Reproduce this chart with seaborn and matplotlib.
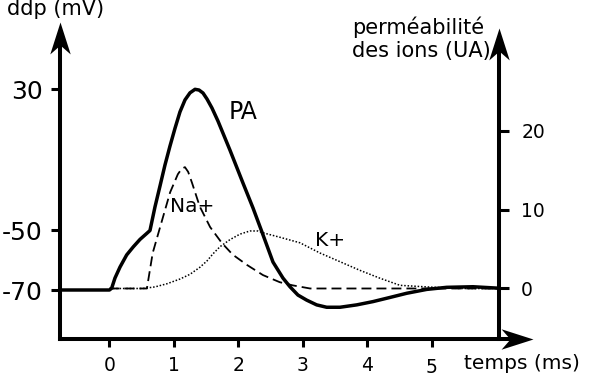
import numpy as np
import seaborn as sns
import matplotlib.pyplot as plt
from matplotlib.path import Path
from matplotlib.transforms import ScaledTranslation

sns.set_style("ticks")
plt.rcParams['font.family'] = ['DejaVu Sans']
plt.rcParams['axes.unicode_minus'] = False
plt.rcParams['axes.edgecolor'] = 'black'
plt.rcParams['xtick.color'] = 'black'
plt.rcParams['ytick.color'] = 'black'
plt.rcParams['text.color'] = 'black'

# ---- data (read off the schematic) ----
# potentiel d'action, ddp in mV
t_pa = [-0.77, 0.0, 0.034, 0.085, 0.163, 0.267, 0.369, 0.473, 0.577, 0.628,
        0.705, 0.783, 0.860, 0.938, 1.016, 1.093, 1.171, 1.248, 1.326, 1.388,
        1.450, 1.512, 1.589, 1.682, 1.868, 2.070, 2.225, 2.364, 2.535, 2.690,
        2.798, 2.922, 3.057, 3.212, 3.367, 3.574, 3.833, 4.085, 4.349, 4.608,
        4.918, 5.228, 5.636, 6.039]
v_pa = [-70, -70, -69.4, -66.0, -62.3, -58.2, -55.5, -53.0, -51.0, -50,
        -36.7, -24.8, -12.9, -2.1, 8.0, 17.3, 24.1, 28.1, 30.1, 29.7,
        28.0, 24.6, 19.5, 12.1, -4.4, -23.1, -37.2, -50.5, -60.6, -66.0,
        -68.9, -71.7, -73.4, -75.0, -75.8, -75.8, -75.0, -73.9, -72.5, -71.1,
        -69.8, -69.1, -68.9, -69.4]

# permeabilite Na+ (UA)
t_na = [0.0, 0.58, 0.67, 0.81, 0.94, 1.06, 1.12, 1.17, 1.22, 1.28, 1.40, 1.56,
        1.74, 1.91, 2.13, 2.38, 2.64, 2.84, 3.11, 6.04]
p_na = [0, 0, 4.5, 8.5, 12.2, 14.5, 15.2, 15.4, 14.8, 13.4, 10.4, 7.8,
        5.8, 4.3, 3.0, 1.7, 0.8, 0.4, 0, 0]

# permeabilite K+ (UA)
t_k = [0.0, 0.52, 0.705, 0.891, 1.093, 1.248, 1.403, 1.512, 1.605, 1.713,
       1.868, 2.023, 2.178, 2.302, 2.411, 2.643, 2.953, 3.264, 3.574, 3.884,
       4.194, 4.504, 4.92, 5.43, 6.04]
p_k = [0, 0, 0.2, 0.6, 1.2, 1.8, 2.7, 3.5, 4.4, 5.3,
       6.2, 6.9, 7.3, 7.3, 7.0, 6.5, 5.8, 4.5, 3.4, 2.3,
       1.3, 0.4, 0.2, 0, 0]

mv_ticks = [-70, -50, 30]
perm_ticks = [0, 10, 20]
time_ticks = [0, 1, 2, 3, 4, 5]

# the mV axis of the drawing is not linear (-70..-50 is stretched)
mv_pts = [-100, -70, -50, 30, 120]
pos_pts = [-89.25, 0, 59.5, 200.5, 359.1]


def fwd(v):
    return np.interp(v, mv_pts, pos_pts)


def inv(p):
    return np.interp(p, pos_pts, mv_pts)


W, H = 589, 376


def px(x, y):
    return x / W, 1 - y / H


fig = plt.figure(figsize=(W / 100, H / 100), dpi=100)
ax = fig.add_axes([60 / W, 37 / H, 439 / W, 317 / H])
ax2 = ax.twinx()

ax.set_yscale('function', functions=(fwd, inv))
ax.set_xlim(-0.767, 6.039)
ax.set_ylim(-86.47, 68.3)
ax2.set_ylim(-6.41, 33.82)

sns.lineplot(x=t_pa, y=v_pa, ax=ax, color='black', lw=2.5,
             estimator=None, sort=False)
sns.lineplot(x=t_na, y=p_na, ax=ax2, color='black', lw=1.3,
             linestyle=(0, (5.5, 2.8)), estimator=None, sort=False)
sns.lineplot(x=t_k, y=p_k, ax=ax2, color='black', lw=1.1,
             linestyle=(0, (1, 1.2)), estimator=None, sort=False)

# ---- axes styling ----
lw_ax = 2.9
for a in (ax, ax2):
    for s in a.spines.values():
        s.set_visible(False)
ax.spines['left'].set_visible(True)
ax.spines['left'].set_linewidth(lw_ax)
ax.spines['left'].set_bounds(-86.47, 58.1)
ax2.spines['right'].set_visible(True)
ax2.spines['right'].set_linewidth(lw_ax)
ax2.spines['right'].set_bounds(-6.41, 30.8)

ax.set_yticks(mv_ticks)
ax.set_yticklabels([str(v) for v in mv_ticks])
ax.yaxis.set_minor_locator(plt.NullLocator())
ax2.set_yticks(perm_ticks)
ax2.set_yticklabels([str(v) for v in perm_ticks])
ax.set_xticks(time_ticks)
ax.set_xticklabels([str(v) for v in time_ticks])

ax.tick_params(axis='y', direction='out', length=6.5, width=2.2,
               labelsize=18, pad=6)
ax2.tick_params(axis='y', direction='out', length=7, width=2.2,
                labelsize=13.5, pad=9)
ax.tick_params(axis='x', direction='out', length=6, width=2.2,
               labelsize=13.5, pad=6)

# the "5" sits a little lower in the drawing
for tick in ax.xaxis.get_major_ticks()[5:]:
    tick.label1.set_transform(tick.label1.get_transform() +
                              ScaledTranslation(0, -0.022, fig.dpi_scale_trans))

# x axis line with arrow beyond the right axis
ax.plot([-0.767, 6.29], [0, 0], transform=ax.get_xaxis_transform(),
        color='black', lw=lw_ax, clip_on=False, solid_capstyle='projecting')

up_arrow = Path([(0, 0), (0.32, -1), (0, -0.72), (-0.32, -1), (0, 0)],
                [Path.MOVETO, Path.LINETO, Path.LINETO, Path.LINETO, Path.CLOSEPOLY])
right_arrow = Path([(0, 0), (-1, 0.32), (-0.72, 0), (-1, -0.32), (0, 0)],
                   [Path.MOVETO, Path.LINETO, Path.LINETO, Path.LINETO, Path.CLOSEPOLY])

ax.plot([0], [1], transform=ax.transAxes, marker=up_arrow, ms=46, color='black',
        mew=0, clip_on=False, zorder=5)
ax2.plot([6.039], [33.06], marker=up_arrow, ms=46, color='black',
         mew=0, clip_on=False, zorder=5)
ax.plot([6.566], [0], transform=ax.get_xaxis_transform(), marker=right_arrow,
        ms=46, color='black', mew=0, clip_on=False, zorder=5)

# ---- texts ----
fig.text(*px(7, 15), 'ddp (mV)', fontsize=15, ha='left', va='baseline')
fig.text(*px(352, 17), 'perméabilité\ndes ions (UA)', fontsize=15,
         ha='left', va='top', linespacing=1.15)
fig.text(*px(464, 369), 'temps (ms)', fontsize=14.5, ha='left', va='baseline')
fig.text(*px(243, 112), 'PA', fontsize=17, ha='center', va='center')
fig.text(*px(192, 206), 'Na+', fontsize=14.5, ha='center', va='center')
fig.text(*px(330, 240), 'K+', fontsize=14.5, ha='center', va='center')

fig.savefig('out.png', dpi=100)
